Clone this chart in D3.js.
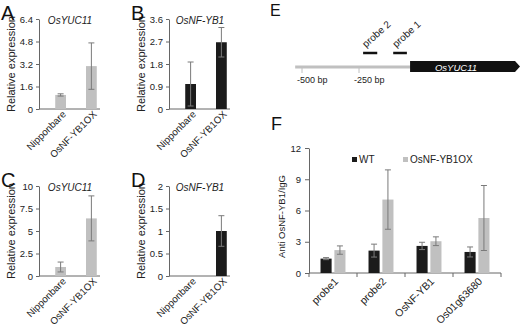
<!DOCTYPE html>
<html lang="en">
<head>
<meta charset="UTF-8">
<script src="https://d3js.org/d3.v7.min.js"></script>
<title>OsNF-YB1 / OsYUC11 panels</title>
<style>
  body { margin: 0; background: #fff; }
  text { font-family: "Liberation Sans", Arial, sans-serif; fill: #222; }
</style>
</head>
<body>
<script>
// ---- data ----
var lines = ["Nipponbare", "OsNF-YB1OX"];

var aValues = [1.0, 3.05], aErrors = [0.08, 1.65], aTicks = [0, 1.6, 3.2, 4.8, 6.4];
var bValues = [1.0, 2.67], bErrors = [0.88, 0.59], bTicks = [0, 0.9, 1.8, 2.7, 3.6];
var cValues = [1.0, 6.4], cErrors = [0.55, 2.5], cTicks = [0, 2.5, 5, 7.5, 10];
var dValues = [0, 1.0], dErrors = [0, 0.34], dTicks = [0, 0.5, 1, 1.5, 2];

var fGroups = ["probe1", "probe2", "OsNF-YB1", "Os01g63680"];
var fSeries = ["WT", "OsNF-YB1OX"];
var wtValues = [1.38, 2.15, 2.6, 2.02];
var wtErrors = [0.1, 0.62, 0.35, 0.48];
var oxValues = [2.2, 7.05, 3.05, 5.28];
var oxErrors = [0.4, 2.85, 0.42, 3.12];
var fTicks = [0, 3, 6, 9, 12];

// promoter map (bp relative to gene)
var mapTicks = [-500, -250];
var probes = [{name: "probe 2", from: -232, to: -170}, {name: "probe 1", from: -100, to: -40}];

var black = "#1b1b1b", grey = "#c0c0c0", errCol = "#7a7a7a", axisCol = "#666";
var fmt = d3.format("");

var svg = d3.select("body").append("svg").attr("width", 520).attr("height", 327);
svg.append("rect").attr("width", 520).attr("height", 327).attr("fill", "#fff");

function letter(t, x, y, size) {
  svg.append("text").attr("x", x).attr("y", y).text(t)
     .style("font-size", size + "px").style("fill", "#111");
}

// small two-bar panel
function smallPanel(ox, oy, title, values, errors, ticks, color, letterTxt) {
  var g = svg.append("g").attr("transform", "translate(" + ox + "," + oy + ")");
  var axX = 39, top = 19, bottom = 109;
  var y = d3.scaleLinear().domain([0, d3.max(ticks)]).range([bottom, top]);
  var x = d3.scaleBand().domain(lines).range([46, 106]).paddingInner(0.65).paddingOuter(0.3);

  letter(letterTxt, ox + 1, oy + 20, 20);

  g.append("g").attr("transform", "translate(" + axX + ",0)")
    .call(d3.axisLeft(y).tickValues(ticks).tickFormat(fmt).tickSize(3).tickPadding(3).tickSizeOuter(0))
    .call(function(a) {
      a.select(".domain").attr("stroke", axisCol);
      a.selectAll(".tick line").attr("stroke", axisCol);
      a.selectAll(".tick text").style("font-size", "9.5px").attr("fill", "#222");
    });
  g.append("line").attr("x1", axX).attr("x2", axX + 61).attr("y1", bottom).attr("y2", bottom)
    .attr("stroke", axisCol);

  var data = lines.map(function(c, i) { return {c: c, v: values[i], e: errors[i]}; });
  g.selectAll("rect.bar").data(data).join("rect").attr("class", "bar")
    .attr("x", function(d) { return x(d.c); })
    .attr("width", x.bandwidth())
    .attr("y", function(d) { return y(d.v); })
    .attr("height", function(d) { return bottom - y(d.v); })
    .attr("fill", color);

  var eb = g.selectAll("g.err").data(data.filter(function(d) { return d.e > 0; })).join("g");
  eb.append("line")
    .attr("x1", function(d) { return x(d.c) + x.bandwidth() / 2; })
    .attr("x2", function(d) { return x(d.c) + x.bandwidth() / 2; })
    .attr("y1", function(d) { return y(d.v + d.e); })
    .attr("y2", function(d) { return y(d.v - d.e); })
    .attr("stroke", errCol);
  [1, -1].forEach(function(s) {
    eb.append("line")
      .attr("x1", function(d) { return x(d.c) + x.bandwidth() / 2 - 3; })
      .attr("x2", function(d) { return x(d.c) + x.bandwidth() / 2 + 3; })
      .attr("y1", function(d) { return y(d.v + s * d.e); })
      .attr("y2", function(d) { return y(d.v + s * d.e); })
      .attr("stroke", errCol);
  });

  g.selectAll("text.xl").data(lines).join("text").attr("class", "xl")
    .attr("transform", function(d) {
      return "translate(" + (x(d) + x.bandwidth() / 2 + 6) + "," + (bottom + 6) + ") rotate(-45)";
    })
    .attr("text-anchor", "end").style("font-size", "9.8px").text(function(d) { return d; });

  g.append("text").attr("x", 70).attr("y", top + 5).attr("text-anchor", "middle")
    .style("font-size", "10px").style("font-style", "italic").text(title);

  g.append("text").attr("transform", "translate(15," + ((top + bottom) / 2) + ") rotate(-90)")
    .attr("text-anchor", "middle").style("font-size", "11px").text("Relative expression");
}

smallPanel(0, 0, "OsYUC11", aValues, aErrors, aTicks, grey, "A");
smallPanel(130, 0, "OsNF-YB1", bValues, bErrors, bTicks, black, "B");
smallPanel(0, 167, "OsYUC11", cValues, cErrors, cTicks, grey, "C");
smallPanel(130, 167, "OsNF-YB1", dValues, dErrors, dTicks, black, "D");

// ---- panel E : promoter map ----
letter("E", 270, 16, 16);
var bp = d3.scaleLinear().domain([-500, -250]).range([302, 359]);
var lineY = 67;
svg.append("line").attr("x1", bp(-530)).attr("x2", bp(-20)).attr("y1", lineY).attr("y2", lineY)
  .attr("stroke", grey).attr("stroke-width", 3);
svg.selectAll("line.mt").data(mapTicks).join("line").attr("class", "mt")
  .attr("x1", bp).attr("x2", bp).attr("y1", lineY).attr("y2", lineY + 6)
  .attr("stroke", grey);
svg.selectAll("text.mt").data(mapTicks).join("text").attr("class", "mt")
  .attr("x", function(d) { return bp(d) - 5; }).attr("y", 83)
  .style("font-size", "9px").text(function(d) { return d + " bp"; });
var gx = bp(-26);
svg.append("path")
  .attr("d", "M" + gx + ",61 L515,61 L520,66.5 L515,72 L" + gx + ",72 Z")
  .attr("fill", "#111");
svg.append("text").attr("x", 456).attr("y", 70.5).attr("text-anchor", "middle")
  .style("font-size", "9.5px").style("font-style", "italic").style("fill", "#fff").text("OsYUC11");
svg.selectAll("line.pr").data(probes).join("line").attr("class", "pr")
  .attr("x1", function(d) { return bp(d.from); }).attr("x2", function(d) { return bp(d.to); })
  .attr("y1", 53).attr("y2", 53).attr("stroke", "#111").attr("stroke-width", 2.5);
svg.selectAll("text.pr").data(probes).join("text").attr("class", "pr")
  .attr("transform", function(d) { return "translate(" + (bp(d.from) + 3) + ",48) rotate(-42)"; })
  .style("font-size", "10px").text(function(d) { return d.name; });

// ---- panel F : ChIP ----
letter("F", 271, 130, 18);
var fx0 = 309, fx1 = 501, fTop = 148, fBottom = 273;
var fy = d3.scaleLinear().domain([0, 12]).range([fBottom, fTop]);
var fx = d3.scaleBand().domain(fGroups).range([fx0, fx1]).paddingInner(0.48).paddingOuter(0.24);
var fxs = d3.scaleBand().domain(fSeries).range([0, fx.bandwidth()]).paddingInner(0.2);
var fColor = d3.scaleOrdinal().domain(fSeries).range([black, grey]);

svg.append("g").attr("transform", "translate(" + fx0 + ",0)")
  .call(d3.axisLeft(fy).tickValues(fTicks).tickFormat(fmt).tickSize(4).tickPadding(4).tickSizeOuter(0))
  .call(function(a) {
    a.select(".domain").attr("stroke", axisCol);
    a.selectAll(".tick line").attr("stroke", axisCol);
    a.selectAll(".tick text").style("font-size", "9.5px").attr("fill", "#222");
  });
svg.append("line").attr("x1", fx0).attr("x2", fx1).attr("y1", fBottom).attr("y2", fBottom)
  .attr("stroke", axisCol);
var step = (fx1 - fx0) / fGroups.length;
svg.selectAll("line.ft").data(d3.range(fGroups.length + 1)).join("line").attr("class", "ft")
  .attr("x1", function(i) { return fx0 + i * step; }).attr("x2", function(i) { return fx0 + i * step; })
  .attr("y1", fBottom).attr("y2", fBottom + 4).attr("stroke", axisCol);

var fData = [];
fGroups.forEach(function(gname, i) {
  fData.push({g: gname, s: "WT", v: wtValues[i], e: wtErrors[i]});
  fData.push({g: gname, s: "OsNF-YB1OX", v: oxValues[i], e: oxErrors[i]});
});
function cx(d) { return fx(d.g) + fxs(d.s) + fxs.bandwidth() / 2; }
svg.selectAll("rect.fb").data(fData).join("rect").attr("class", "fb")
  .attr("x", function(d) { return fx(d.g) + fxs(d.s); })
  .attr("width", fxs.bandwidth())
  .attr("y", function(d) { return fy(d.v); })
  .attr("height", function(d) { return fBottom - fy(d.v); })
  .attr("fill", function(d) { return fColor(d.s); });
var feb = svg.selectAll("g.fe").data(fData).join("g").attr("class", "fe");
feb.append("line").attr("x1", cx).attr("x2", cx)
  .attr("y1", function(d) { return fy(d.v + d.e); }).attr("y2", function(d) { return fy(d.v - d.e); })
  .attr("stroke", errCol);
[1, -1].forEach(function(s) {
  feb.append("line")
    .attr("x1", function(d) { return cx(d) - 3; }).attr("x2", function(d) { return cx(d) + 3; })
    .attr("y1", function(d) { return fy(d.v + s * d.e); }).attr("y2", function(d) { return fy(d.v + s * d.e); })
    .attr("stroke", errCol);
});

svg.selectAll("text.fxl").data(fGroups).join("text").attr("class", "fxl")
  .attr("transform", function(d) {
    return "translate(" + (fx(d) + fx.bandwidth() / 2 + 6) + "," + (fBottom + 9) + ") rotate(-45)";
  })
  .attr("text-anchor", "end").style("font-size", "10.5px").text(function(d) { return d; });

svg.append("text").attr("transform", "translate(285," + ((fTop + fBottom) / 2 + 6) + ") rotate(-90)")
  .attr("text-anchor", "middle").style("font-size", "9.5px").text("Anti OsNF-YB1/IgG");

var legX = [352, 403];
var leg = svg.selectAll("g.leg").data(fSeries).join("g").attr("class", "leg")
  .attr("transform", function(d, i) { return "translate(" + legX[i] + ",157)"; });
leg.append("rect").attr("width", 5).attr("height", 5).attr("fill", function(d) { return fColor(d); });
leg.append("text").attr("x", 7).attr("y", 6).style("font-size", "10px").text(function(d) { return d; });
</script>
</body>
</html>
